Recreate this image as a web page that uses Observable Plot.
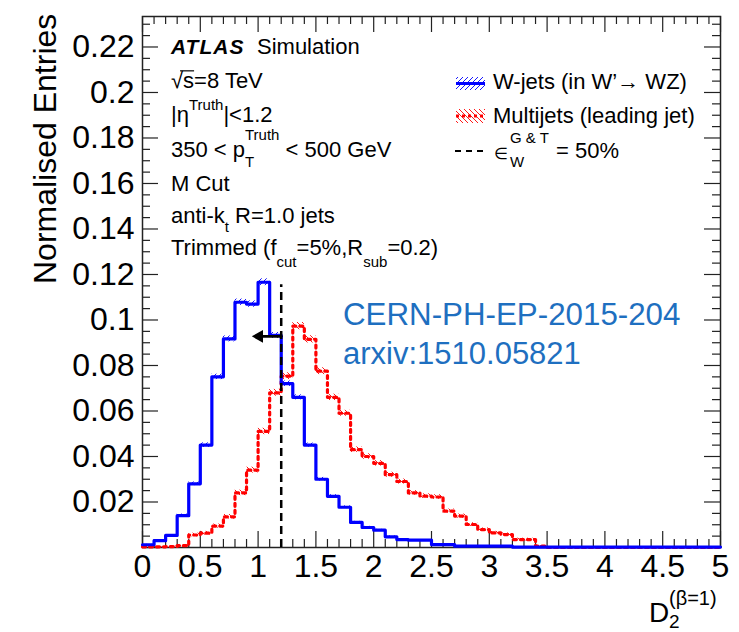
<!DOCTYPE html>
<html><head><meta charset="utf-8">
<script src="https://cdn.jsdelivr.net/npm/d3@7"></script>
<script src="https://cdn.jsdelivr.net/npm/@observablehq/plot@0.6"></script>
<style>
body{margin:0;background:#fff;}
#chart{width:739px;height:632px;}
</style></head><body><div id="chart"></div>
<script>
// ---------------- data ----------------
const xMax = 5;
const binWidth = 0.1;
const seriesNames = ["W-jets (in W\u2019\u2192 WZ)", "Multijets (leading jet)"];
const wjets = [
 0.0012,0.0030,0.0053,0.0140,0.0280,0.0450,0.0750,0.0917,0.1078,0.1070,
 0.1166,0.0932,0.0720,0.0660,0.0450,0.0300,0.0225,0.0177,0.0110,0.0088,
 0.0076,0.0047,0.0035,0.0032,0.0032,0.0013,0.0013,0.0006,0.0006,0.0006,
 0.0006,0.0006,0.0002,0.0002,0.0002,0.0002,0.0002,0.0002,0.0002,0.0002,
 0.0002,0.0002,0.0002,0.0002,0.0002,0.0002,0.0002,0.0002,0.0002,0.0002];
const wjetsErr = [
 0.0002,0.0003,0.0004,0.0007,0.0008,0.0010,0.0012,0.0013,0.0014,0.0014,
 0.0015,0.0013,0.0012,0.0011,0.0009,0.0008,0.0007,0.0006,0.0005,0.0005,
 0.0004,0.0004,0.0003,0.0003,0.0003,0.0002,0.0002,0.0001,0.0001,0.0001,
 0.0001,0.0001,0,0,0,0,0,0,0,0,
 0,0,0,0,0,0,0,0,0,0];
const multijets = [
 0.0003,0.0003,0.0004,0.0008,0.0055,0.0063,0.0094,0.0135,0.0240,0.0340,
 0.0510,0.0680,0.0753,0.0973,0.0915,0.0775,0.0660,0.0590,0.0430,0.0400,
 0.0370,0.0320,0.0290,0.0240,0.0226,0.0222,0.0160,0.0138,0.0101,0.0079,
 0.0064,0.0057,0.0035,0.0035,0.0006,0,0,0,0,0,
 0,0,0,0,0,0,0,0,0,0];
const multijetsErr = [
 0.0001,0.0001,0.0002,0.0003,0.0008,0.0008,0.0009,0.0010,0.0012,0.0013,
 0.0014,0.0015,0.0015,0.0016,0.0016,0.0015,0.0014,0.0013,0.0012,0.0012,
 0.0012,0.0011,0.0011,0.0010,0.0010,0.0010,0.0009,0.0009,0.0008,0.0007,
 0.0007,0.0007,0.0006,0.0006,0.0002,0,0,0,0,0,
 0,0,0,0,0,0,0,0,0,0];
const xTicks = [0,0.5,1,1.5,2,2.5,3,3.5,4,4.5,5];
const xTickLabels = ["0","0.5","1","1.5","2","2.5","3","3.5","4","4.5","5"];
const yTicks = [0.02,0.04,0.06,0.08,0.1,0.12,0.14,0.16,0.18,0.2,0.22];
const yTickLabels = ["0.02","0.04","0.06","0.08","0.1","0.12","0.14","0.16","0.18","0.2","0.22"];
const cutValue = 1.2;        // D2 cut for 50% W efficiency
const cutLineTop = 0.1155;
const arrowY = 0.0928;
const arrowShaftEnd = 1.04;
const arrowHead = 1.01;

// ---------------- layout ----------------
const W = 739, H = 632;
const mL = 142, mR = 19, mT = 16, mB = 85;
const yMax = 0.2334;
const pxPerY = (H - mT - mB) / yMax;
const pxPerX = (W - mL - mR) / xMax;
const majLen = 16, minLen = 8;
const FONT = "'Liberation Sans', Arial, Helvetica, sans-serif";

const bins = d3.range(wjets.length).map(i => +(i * binWidth).toFixed(1));
function steps(vals) {
  const pts = bins.map((lo, i) => ({x: lo, y: vals[i]}));
  pts.push({x: xMax, y: vals[vals.length - 1]});
  return pts;
}
function bands(vals, errs) {
  return bins.map((lo, i) => ({x1: lo, x2: lo + binWidth, y1: vals[i] - errs[i], y2: vals[i] + errs[i], e: errs[i]}))
    .filter(d => d.e > 0);
}
const xMinor = d3.range(0, xMax + 1e-9, 0.1).map(v => +v.toFixed(1)).filter(v => !xTicks.includes(v));
const yMinor = d3.range(0, yMax, 0.005).map(v => +v.toFixed(3)).filter(v => Math.abs(v / 0.02 - Math.round(v / 0.02)) > 1e-6);
const yMajorAll = [0, ...yTicks];
const tickStroke = {stroke: "#222", strokeWidth: 1.2};

const plot = Plot.plot({
  width: W, height: H,
  marginLeft: mL, marginRight: mR, marginTop: mT, marginBottom: mB,
  x: {domain: [0, xMax]},
  y: {domain: [0, yMax]},
  style: {fontFamily: FONT, fontSize: "32px", color: "#000", background: "#fff", overflow: "visible"},
  marks: [
    // ticks (inward, ROOT style)
    Plot.ruleX(xTicks, {x: d => d, y1: 0, y2: majLen / pxPerY, ...tickStroke}),
    Plot.ruleX(xMinor, {x: d => d, y1: 0, y2: minLen / pxPerY, ...tickStroke}),
    Plot.ruleX(xTicks, {x: d => d, y1: yMax - majLen / pxPerY, y2: yMax, ...tickStroke}),
    Plot.ruleX(xMinor, {x: d => d, y1: yMax - minLen / pxPerY, y2: yMax, ...tickStroke}),
    Plot.ruleY(yMajorAll, {y: d => d, x1: 0, x2: majLen / pxPerX, ...tickStroke}),
    Plot.ruleY(yMinor, {y: d => d, x1: 0, x2: minLen / pxPerX, ...tickStroke}),
    Plot.ruleY(yMajorAll, {y: d => d, x1: xMax - majLen / pxPerX, x2: xMax, ...tickStroke}),
    Plot.ruleY(yMinor, {y: d => d, x1: xMax - minLen / pxPerX, x2: xMax, ...tickStroke}),
    Plot.frame({stroke: "#222", strokeWidth: 1.5}),
    // error bands
    Plot.rect(bands(multijets, multijetsErr), {x1: "x1", x2: "x2", y1: "y1", y2: "y2", fill: "url(#hatchRed)"}),
    Plot.rect(bands(wjets, wjetsErr), {x1: "x1", x2: "x2", y1: "y1", y2: "y2", fill: "url(#hatchBlue)"}),
    // histograms
    Plot.line(steps(multijets), {x: "x", y: "y", curve: "step-after", stroke: "#ff0000", strokeWidth: 3.2, strokeDasharray: "3,4"}),
    Plot.line(steps(wjets), {x: "x", y: "y", curve: "step-after", stroke: "#0000ff", strokeWidth: 3.2}),
    // cut line and arrow
    Plot.ruleX([cutValue], {x: d => d, y1: 0, y2: cutLineTop, stroke: "#000", strokeWidth: 2.5, strokeDasharray: "8,5"}),
    Plot.line([{x: cutValue, y: arrowY}, {x: arrowShaftEnd, y: arrowY}], {x: "x", y: "y", stroke: "#000", strokeWidth: 2.8}),
    Plot.dot([{x: arrowHead, y: arrowY}], {x: "x", y: "y", symbol: "triangle", r: 4.8, rotate: -90, fill: "#000", stroke: "none"}),
    // axes (labels only)
    Plot.axisX(xTicks, {tickSize: 0, tickPadding: 7, label: null, fontSize: 32,
      tickFormat: d => xTickLabels[xTicks.indexOf(d)]}),
    Plot.axisY(yTicks, {tickSize: 0, tickPadding: 8, label: null, fontSize: 32,
      tickFormat: d => yTickLabels[yTicks.indexOf(d)]})
  ]
});

document.getElementById("chart").appendChild(plot);
const svg = d3.select(plot);

// hatch patterns
const defs = svg.insert("defs", ":first-child");
defs.append("pattern").attr("id", "hatchBlue").attr("patternUnits", "userSpaceOnUse")
  .attr("width", 5).attr("height", 5)
  .append("path").attr("d", "M0,5 L5,0 M-1,1 L1,-1 M4,6 L6,4")
  .attr("stroke", "#0000ff").attr("stroke-width", 0.9).attr("fill", "none");
defs.append("pattern").attr("id", "hatchRed").attr("patternUnits", "userSpaceOnUse")
  .attr("width", 5).attr("height", 5)
  .append("path").attr("d", "M0,0 L5,5 M-1,4 L1,6 M4,-1 L6,1")
  .attr("stroke", "#ff0000").attr("stroke-width", 0.9).attr("fill", "none");

// rich text helper
const ann = svg.append("g").attr("font-family", FONT).attr("fill", "#000").attr("text-anchor", "start");
function rich(x, y, parts, fill) {
  const t = ann.append("text").attr("x", x).attr("y", y).attr("text-anchor", "start");
  if (fill) t.attr("fill", fill);
  for (const p of parts) {
    const s = t.append("tspan").text(p.t).attr("font-size", p.size || 22);
    if (p.x != null) s.attr("x", p.x);
    if (p.y != null) s.attr("y", p.y);
    if (p.dx != null) s.attr("dx", p.dx);
    if (p.dy != null) s.attr("dy", p.dy);
    if (p.weight) s.attr("font-weight", p.weight);
    if (p.style) s.attr("font-style", p.style);
    if (p.ls) s.attr("letter-spacing", p.ls);
  }
  return t;
}

// ATLAS label block
rich(171, 54, [{t: "ATLAS", size: 21, weight: "bold", style: "italic", ls: 1}, {t: "Simulation", x: 257}]);
const sq = rich(171, 88, [{t: "\u221A"}, {t: "s"}, {t: "=8 TeV"}]);
{
  const e0 = sq.node().getExtentOfChar(0), e1 = sq.node().getExtentOfChar(1);
  const yy = 88 - 22 * 0.78;
  ann.append("line").attr("x1", e0.x + e0.width * 0.75).attr("x2", e1.x + e1.width)
    .attr("y1", yy).attr("y2", yy).attr("stroke", "#000").attr("stroke-width", 1.2);
}
rich(171, 122, [{t: "|\u03B7"}, {t: "Truth", size: 15, dy: -12}, {t: "|<1.2", dy: 12}]);
rich(171, 157, [{t: "350 < p"}, {t: "T", size: 15, dy: 10}, {t: "Truth", size: 15, dx: -9.2, dy: -27}, {t: " < 500 GeV", dy: 17}]);
rich(171, 191, [{t: "M Cut"}]);
rich(171, 223, [{t: "anti-k"}, {t: "t", size: 15, dy: 9}, {t: " R=1.0 jets", dy: -9}]);
rich(171, 255, [{t: "Trimmed (f"}, {t: "cut", size: 15, dy: 12}, {t: "=5%,R", dy: -12}, {t: "sub", size: 15, dy: 12}, {t: "=0.2)", dy: -12}]);

// legend
ann.append("rect").attr("x", 456).attr("y", 77).attr("width", 29).attr("height", 13).attr("fill", "url(#hatchBlue)");
ann.append("line").attr("x1", 456).attr("x2", 485).attr("y1", 83.5).attr("y2", 83.5).attr("stroke", "#0000ff").attr("stroke-width", 3);
rich(493, 89, [{t: seriesNames[0]}]);
ann.append("rect").attr("x", 456).attr("y", 109).attr("width", 29).attr("height", 14).attr("fill", "url(#hatchRed)");
ann.append("line").attr("x1", 456).attr("x2", 485).attr("y1", 116).attr("y2", 116).attr("stroke", "#ff0000").attr("stroke-width", 3).attr("stroke-dasharray", "3,3");
rich(493, 123, [{t: seriesNames[1]}]);
ann.append("line").attr("x1", 455).attr("x2", 485).attr("y1", 151).attr("y2", 151).attr("stroke", "#000").attr("stroke-width", 2).attr("stroke-dasharray", "6,5");
rich(494, 159, [{t: "\u2208", size: 16}]);
rich(510, 143, [{t: "G & T", size: 15}]);
rich(510, 167, [{t: "W", size: 15}]);
rich(556, 158, [{t: "= 50%"}]);

// reference text
rich(343, 325, [{t: "CERN-PH-EP-2015-204", size: 31.3}], "#1e6fc0");
rich(343, 364, [{t: "arxiv:1510.05821", size: 31}], "#1e6fc0");

// axis titles
ann.append("text").attr("transform", "translate(56,284) rotate(-90)").attr("text-anchor", "start").attr("font-size", 32).text("Normalised Entries");
rich(649, 622, [{t: "D", size: 28}]);
rich(669, 628, [{t: "2", size: 19}]);
rich(669, 605, [{t: "(\u03B2=1)", size: 20}]);
</script>
</body></html>
